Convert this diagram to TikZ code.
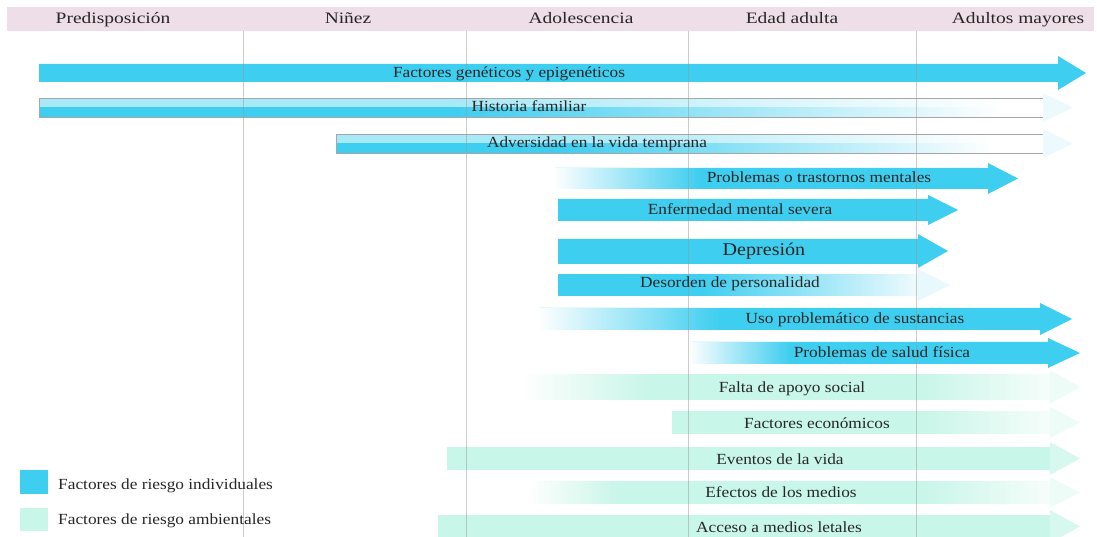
\documentclass[tikz,border=0pt]{standalone}
\usepackage{fontspec}
\setmainfont{Liberation Serif}
\usetikzlibrary{fadings}
\definecolor{riskblue}{RGB}{62,206,240}
\definecolor{riskmint}{RGB}{200,246,232}
\definecolor{headpink}{RGB}{238,222,232}
\begin{document}
\begin{tikzpicture}[
    x=1bp,y=-1bp,
    stage/.style={font=\fontsize{16}{18}\selectfont,xscale=1.22,inner sep=0pt,anchor=base,text=black!85},
    risk/.style={font=\fontsize{15.5}{17}\selectfont,xscale=1.12,inner sep=0pt,anchor=base,text=black!85},
    gridline/.style={draw=black!40,opacity=.5,line width=0.8bp},
    frame/.style={draw=black!35,line width=0.8bp},
    fadein/.style={fill=white,path fading=east},
    fadeout/.style={fill=white,path fading=west}
  ]
    \useasboundingbox (0,0) rectangle (1097,537);
    \clip (0,0) rectangle (1097,537);

    % header band
    \fill[headpink] (7,7) rectangle (1094,31);
    \node[stage] (pre) at (113,24) {Predisposición};
    \node[stage] (nin) at (348,24) {Niñez};
    \node[stage] (ado) at (581,24) {Adolescencia};
    \node[stage] (adu) at (792,24) {Edad adulta};
    \node[stage] (may) at (1018,24) {Adultos mayores};

    % individual factors
    \fill[riskblue] (39,64) -- (1058,64) -- (1058,56) -- (1086,73) -- (1058,90) -- (1058,82) -- (39,82) -- cycle;

    \fill[riskblue] (39,107.5) rectangle (1000,117);
    \fill[riskblue!45] (39,98) rectangle (1000,107.5);
    \path[fadeout] (450,98) rectangle (1001,117);
    \fill[white] (1000,98) rectangle (1043,117);
    \draw[frame] (39,98) rectangle (1043,117);
    \fill[riskblue!10] (1043,93) -- (1073,107.5) -- (1043,122) -- cycle;

    \fill[riskblue] (336,143.5) rectangle (990,153);
    \fill[riskblue!45] (336,134) rectangle (990,143.5);
    \path[fadeout] (560,134) rectangle (991,153);
    \fill[white] (990,134) rectangle (1043,153);
    \draw[frame] (336,134) rectangle (1043,153);
    \fill[riskblue!10] (1043,129) -- (1073,143.5) -- (1043,158) -- cycle;

    \fill[riskblue] (555,168) -- (988,168) -- (988,163) -- (1018,178.5) -- (988,194) -- (988,189) -- (555,189) -- cycle;
    \path[fadein] (554,168) rectangle (700,189);

    \fill[riskblue] (558,199) -- (928,199) -- (928,195) -- (958,210) -- (928,225) -- (928,221) -- (558,221) -- cycle;

    \fill[riskblue] (558,239) -- (918,239) -- (918,234) -- (948,251) -- (918,268) -- (918,264) -- (558,264) -- cycle;

    \fill[riskblue] (558,274) rectangle (918,296);
    \path[fadeout,fill opacity=.92] (700,274) rectangle (918.5,296);
    \fill[riskblue!12] (918,269) -- (950,285) -- (918,301) -- cycle;

    \fill[riskblue] (540,308) -- (1040,308) -- (1040,303) -- (1072,319) -- (1040,335) -- (1040,330) -- (540,330) -- cycle;
    \path[fadein] (539,308) rectangle (720,330);

    \fill[riskblue] (690,342) -- (1048,342) -- (1048,338) -- (1080,353) -- (1048,368) -- (1048,364) -- (690,364) -- cycle;
    \path[fadein] (689,342) rectangle (790,364);

    % environmental factors
    \fill[riskmint] (525,374) rectangle (1050,400);
    \path[fadein] (524,374) rectangle (650,400);
    \path[fadeout,fill opacity=.85] (920,374) rectangle (1050.5,400);
    \fill[riskmint!30] (1050,370) -- (1080,387) -- (1050,404) -- cycle;

    \fill[riskmint] (672,411) rectangle (1050,434);
    \path[fadeout,fill opacity=.85] (920,411) rectangle (1050.5,434);
    \fill[riskmint!30] (1050,407) -- (1080,422.5) -- (1050,438) -- cycle;

    \fill[riskmint] (447,447) rectangle (1050,470);
    \fill[riskmint!75] (1050,442) -- (1080,458.5) -- (1050,475) -- cycle;

    \fill[riskmint] (530,481) rectangle (1050,504);
    \path[fadein] (529,481) rectangle (620,504);
    \path[fadeout,fill opacity=.85] (920,481) rectangle (1050.5,504);
    \fill[riskmint!30] (1050,477) -- (1080,492.5) -- (1050,508) -- cycle;

    \fill[riskmint] (438,515) rectangle (1050,538);
    \fill[riskmint!75] (1050,510) -- (1080,526.5) -- (1050,543) -- cycle;

    % stage lines
    \foreach \x in {243,466,688,916}
        \draw[gridline] (\x,31) -- (\x,537);

    \node[risk] (gen)    at (509,78)  {Factores genéticos y epigenéticos};
    \node[risk] (fam)    at (529,112) {Historia familiar};
    \node[risk] (adv)    at (597,148) {Adversidad en la vida temprana};
    \node[risk] (ment)   at (819,183) {Problemas o trastornos mentales};
    \node[risk] (sev)    at (740,215) {Enfermedad mental severa};
    \node[risk,font=\fontsize{18}{20}\selectfont] (dep) at (764,256) {Depresión};
    \node[risk] (pers)   at (730,288) {Desorden de personalidad};
    \node[risk] (sust)   at (855,324) {Uso problemático de sustancias};
    \node[risk] (salud)  at (882,358) {Problemas de salud física};
    \node[risk] (apoyo)  at (792,392) {Falta de apoyo social};
    \node[risk] (econ)   at (817,428) {Factores económicos};
    \node[risk] (vida)   at (780,464) {Eventos de la vida};
    \node[risk] (medios) at (781,497) {Efectos de los medios};
    \node[risk] (letal)  at (779,532) {Acceso a medios letales};

    % legend
    \fill[riskblue] (20,470) rectangle (48,494);
    \fill[riskmint] (20,508) rectangle (48,531);
    \node[risk,anchor=base west] (ind) at (58,489) {Factores de riesgo individuales};
    \node[risk,anchor=base west] (amb) at (58,524) {Factores de riesgo ambientales};
\end{tikzpicture}
\end{document}
